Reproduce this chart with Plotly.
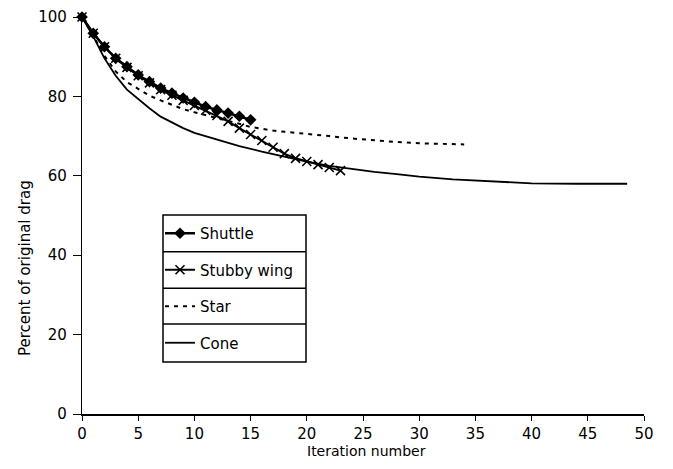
import plotly.graph_objects as go

# ---------------- data ----------------
shuttle_x = list(range(0, 16))
shuttle_y = [100, 95.9, 92.5, 89.6, 87.5, 85.4, 83.7, 82.1, 80.8, 79.6,
             78.5, 77.4, 76.6, 75.8, 75.0, 74.1]

stubby_x = list(range(0, 24))
stubby_y = [100, 95.9, 92.5, 89.6, 87.3, 85.2, 83.4, 81.7, 80.3, 79.0,
            77.7, 76.5, 75.2, 73.7, 72.0, 70.4, 68.9, 67.2, 65.6, 64.4,
            63.6, 62.8, 62.1, 61.3]

star_x = [0, 1, 2, 3, 4, 5, 6, 7, 8, 9, 10, 11, 12, 13, 14, 15, 16, 17, 18,
          20, 22, 24, 26, 28, 30, 32, 34]
star_y = [100, 95.3, 90.2, 86.3, 83.6, 81.8, 80.2, 79.0, 77.8, 76.8, 76.0,
          75.3, 74.6, 73.8, 73.1, 72.3, 71.8, 71.4, 71.1, 70.6, 70.0, 69.4,
          68.9, 68.5, 68.2, 68.0, 67.9]

cone_x = [0, 1, 2, 3, 4, 5, 6, 7, 8, 9, 10, 12, 14, 16, 18, 20, 22, 24, 26,
          28, 30, 33, 36, 40, 44, 48.5]
cone_y = [100, 95.1, 89.6, 85.2, 81.7, 79.3, 77.0, 74.9, 73.4, 72.0, 70.8,
          69.2, 67.5, 66.1, 64.8, 63.6, 62.5, 61.7, 61.0, 60.4, 59.8, 59.1,
          58.6, 58.1, 58.0, 58.0]

x_ticks = [0, 5, 10, 15, 20, 25, 30, 35, 40, 45, 50]
y_ticks = [0, 20, 40, 60, 80, 100]

# ---------------- layout helpers ----------------
# the page body adds an 8px margin, so the figure is offset by OFF
OFF = 8
PAGE_W, PAGE_H = 673, 469
W, H = PAGE_W - 2 * OFF, PAGE_H - 2 * OFF
# plot area in page pixels
PL, PR, PT, PB = 82, 644, 17, 414
ML, MT = PL - OFF, PT - OFF
MR, MB = W - (PR - OFF), H - (PB - OFF)
PW, PH = PR - PL, PB - PT


def px_x(p):
    return (p - PL) / PW


def px_y(p):
    return (PB - p) / PH


FONT = "DejaVu Sans"
BLACK = "black"

fig = go.Figure()

fig.add_trace(go.Scatter(
    x=shuttle_x, y=shuttle_y, name="Shuttle", mode="lines+markers",
    legendgroup="a",
    line=dict(color=BLACK, width=2.5),
    marker=dict(symbol="diamond", size=9, color=BLACK),
    cliponaxis=False))

fig.add_trace(go.Scatter(
    x=stubby_x, y=stubby_y, name="Stubby wing", mode="lines+markers",
    legendgroup="b",
    line=dict(color=BLACK, width=2),
    marker=dict(symbol="x-thin", size=9, color=BLACK,
                line=dict(color=BLACK, width=1.6)),
    cliponaxis=False))

fig.add_trace(go.Scatter(
    x=star_x, y=star_y, name="Star", mode="lines",
    legendgroup="c",
    line=dict(color=BLACK, width=2, dash="4px,5px"),
    cliponaxis=False))

fig.add_trace(go.Scatter(
    x=cone_x, y=cone_y, name="Cone", mode="lines",
    legendgroup="d",
    line=dict(color=BLACK, width=1.8),
    cliponaxis=False))

# legend boxes (outer frame + row separators)
box_l, box_r, box_t, box_b = 163, 306, 215, 362
row_seps = [251.7, 288.3, 324]
fig.add_shape(type="rect", xref="paper", yref="paper",
              x0=px_x(box_l), x1=px_x(box_r), y0=px_y(box_b), y1=px_y(box_t),
              line=dict(color=BLACK, width=1.5))
for s in row_seps:
    fig.add_shape(type="line", xref="paper", yref="paper",
                  x0=px_x(box_l), x1=px_x(box_r), y0=px_y(s), y1=px_y(s),
                  line=dict(color=BLACK, width=1.5))

# axis titles
fig.add_annotation(text="Percent of original drag", xref="paper", yref="paper",
                   x=px_x(25), y=px_y(268), showarrow=False, textangle=-90,
                   font=dict(family=FONT, size=15, color=BLACK),
                   xanchor="center", yanchor="middle")
fig.add_annotation(text="Iteration number", xref="paper", yref="paper",
                   x=px_x(366), y=px_y(PAGE_H - OFF), showarrow=False,
                   font=dict(family=FONT, size=14, color=BLACK),
                   xanchor="center", yanchor="bottom")

fig.update_layout(
    width=W, height=H,
    margin=dict(l=ML, r=MR, t=MT, b=MB, pad=0, autoexpand=False),
    paper_bgcolor="white", plot_bgcolor="white",
    font=dict(family=FONT, size=15, color=BLACK),
    showlegend=True,
    legend=dict(x=px_x(160), y=px_y(217), xanchor="left", yanchor="top",
                bgcolor="rgba(0,0,0,0)", borderwidth=0,
                traceorder="grouped", tracegroupgap=14,
                font=dict(family=FONT, size=15, color=BLACK)),
    xaxis=dict(range=[0, 50], tickvals=x_ticks, ticktext=[str(v) for v in x_ticks],
               showgrid=False, zeroline=False, showline=True, linecolor=BLACK,
               linewidth=1.8, ticks="outside", ticklen=5, tickwidth=1.2,
               tickcolor=BLACK, ticklabelstandoff=0, automargin=False,
               tickfont=dict(family=FONT, size=15, color=BLACK)),
    yaxis=dict(range=[0, 100], tickvals=y_ticks, ticktext=[str(v) for v in y_ticks],
               showgrid=False, zeroline=False, showline=True, linecolor=BLACK,
               linewidth=1.2, ticks="outside", ticklen=8, tickwidth=1.2,
               tickcolor=BLACK, ticklabelstandoff=3, automargin=False,
               tickfont=dict(family=FONT, size=15, color=BLACK)),
)

fig.write_html("out.html")
